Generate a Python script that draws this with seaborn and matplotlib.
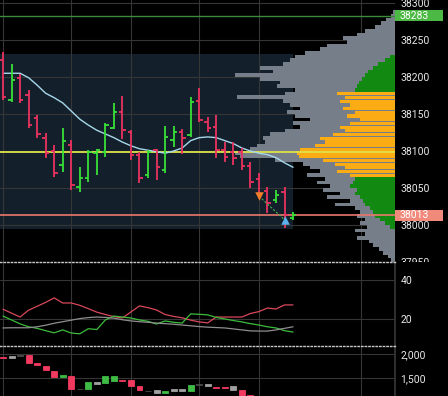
import numpy as np
import pandas as pd
import matplotlib
matplotlib.use("Agg")
import matplotlib.pyplot as plt
import matplotlib.transforms as mtransforms
from matplotlib.patches import Rectangle
from matplotlib.ticker import FuncFormatter
import seaborn as sns

# --- price bars (OHLC), one per bar index ---
bar_open = [38223, 38169, 38199, 38176, 38145, 38118, 38100, 38081, 38108, 38052,
            38064, 38097, 38099, 38131, 38153, 38126, 38095, 38068, 38102, 38074,
            38115, 38126, 38122, 38168, 38139, 38132, 38101, 38099, 38098, 38080,
            38062, 38046, 38034, 38044, 38010]
bar_high = [38234, 38218, 38204, 38182, 38149, 38124, 38108, 38131, 38115, 38078,
            38101, 38103, 38138, 38165, 38174, 38128, 38099, 38101, 38103, 38134,
            38134, 38130, 38173, 38185, 38146, 38149, 38112, 38112, 38104, 38085,
            38070, 38051, 38047, 38051, 38018]
bar_low = [38169, 38166, 38165, 38131, 38118, 38091, 38065, 38072, 38047, 38045,
           38058, 38068, 38092, 38130, 38116, 38088, 38057, 38064, 38061, 38070,
           38105, 38096, 38119, 38139, 38126, 38091, 38085, 38081, 38074, 38050,
           38038, 38016, 38030, 37996, 38007]
bar_close = [38173, 38196, 38169, 38135, 38123, 38097, 38070, 38114, 38054, 38063,
             38099, 38101, 38135, 38153, 38128, 38095, 38064, 38099, 38078, 38119,
             38126, 38118, 38166, 38142, 38131, 38101, 38092, 38090, 38080, 38058,
             38040, 38030, 38040, 38013, 38013]
ma_line = [38205, 38205, 38205, 38199, 38189, 38178, 38172, 38165, 38154, 38143,
           38135, 38128, 38123, 38118, 38112, 38107, 38103, 38101, 38099, 38097,
           38100, 38104, 38114, 38118, 38119, 38118, 38114, 38110, 38104, 38100,
           38097, 38095, 38091, 38084, 38078]

# --- levels ---
high_level = 38283
last_price = 38013
poc_price = 38098
session_top = 38231
session_bottom = 37994
va_low, va_high = 38065, 38175
signal_bars = [30, 33]
signal_prices = [38039, 38007]

# --- volume profile, 5 point rows (lower edge), top to bottom ---
profile_rows = np.arange(38285, 37945, -5)
profile_total = [2, 4, 9, 14, 20, 30, 38, 52, 48, 68,
                 75, 90, 100, 105, 112, 135, 122, 160, 135, 115,
                 118, 100, 110, 158, 112, 105, 95, 108, 100, 85,
                 102, 95, 110, 125, 132, 130, 138, 145, 160, 155,
                 120, 92, 85, 75, 88, 70, 78, 65, 72, 55,
                 68, 45, 60, 40, 35, 38, 30, 35, 28, 40,
                 30, 38, 26, 22, 16, 12, 7, 4]
profile_session = [0] * 12 + [5, 10, 17, 22, 27, 30, 33, 36, 38, 40,
                              58, 50, 55, 45, 52, 40, 48, 35, 45, 55,
                              50, 62, 75, 70, 80, 95, 98, 96, 72, 60,
                              50, 58, 45,
                              40, 42, 45, 38, 40, 35, 32, 30, 25, 22,
                              20, 15, 10, 5] + [0] * 9

# --- directional lines (middle panel) ---
dmi_red = [25.0, 23.0, 21.0, 24.5, 26.5, 28.5, 30.8, 28.2, 28.2, 27.0,
           25.3, 23.5, 22.3, 21.2, 20.5, 23.6, 26.7, 25.8, 24.6, 22.3,
           21.3, 20.6, 19.4, 18.5, 18.0, 21.0, 21.0, 21.0, 21.0, 22.8,
           23.8, 25.6, 25.1, 27.2, 27.2]
dmi_green = [21.5, 19.5, 17.5, 16.0, 15.2, 14.0, 12.9, 14.4, 12.8, 12.4,
             15.0, 14.6, 19.5, 21.5, 21.0, 20.5, 19.5, 18.8, 17.4, 19.0,
             18.3, 17.9, 22.6, 22.4, 22.1, 20.8, 20.0, 19.2, 18.5, 17.6,
             16.9, 16.0, 15.4, 14.0, 13.3]
adx_gray = [15.4, 15.5, 15.5, 15.5, 16.0, 16.8, 17.8, 18.6, 19.4, 20.2,
            20.7, 21.0, 20.8, 20.4, 19.6, 19.0, 18.6, 18.3, 17.9, 17.6,
            17.3, 16.9, 16.5, 16.1, 15.8, 15.6, 15.4, 14.9, 14.4, 13.9,
            13.8, 13.8, 14.4, 15.2, 16.0]

# --- cumulative delta boxes (bottom panel) ---
cvd_open = [1944, 1958, 1979, 1979, 1806, 1750, 1652, 1515, 1542, 1271,
            1277, 1417, 1390, 1444, 1458, 1458, 1333, 1235, 1250, 1194,
            1271, 1271, 1235, 1375, 1375, 1319, 1319, 1333, 1250, 1146]
cvd_close = [1910, 1917, 1969, 1806, 1765, 1667, 1527, 1556, 1265, 1265,
             1417, 1381, 1542, 1542, 1437, 1333, 1250, 1229, 1194, 1235,
             1235, 1235, 1348, 1360, 1333, 1298, 1298, 1250, 1125, 1040]
cvd_state = ["down", "flat", "doji", "down", "down", "down", "down", "up", "down", "doji",
             "up", "flat", "up", "up", "down", "down", "down", "doji", "flat", "up",
             "flat", "flat", "up", "doji", "flat", "down", "down", "flat", "down", "down"]

price_ticks = [37950, 38000, 38050, 38100, 38150, 38200, 38250, 38300]
dmi_ticks = [20, 40]
cvd_ticks = [1500, 2000]
time_ticks = [0, 8, 15, 23, 30, 42]

RED = "#ea3260"
GREEN = "#38e038"
GRID = "#363636"
LABEL = "#e8e8e8"

sns.set_theme(style="dark", rc={"figure.facecolor": "black", "axes.facecolor": "black",
                                "axes.edgecolor": "black", "savefig.facecolor": "black"})
plt.rcParams["font.family"] = ["Roboto", "DejaVu Sans"]

fig = plt.figure(figsize=(4.48, 3.96), dpi=100)
W = 395 / 448
main_pos = [0, 134 / 396, W, 262 / 396]

# profile layer underneath, price layer on top (shared price scale)
ax_p = fig.add_axes(main_pos)
ax = fig.add_axes(main_pos, sharey=ax_p)
ax_p.set_zorder(0)
ax.set_zorder(1)
ax.patch.set_visible(False)
ax_p.set_facecolor("black")

x_idx = np.arange(len(bar_open))
ax.set_xlim(-0.35, 45.95)
ax_p.set_xlim(395, 0)
ax.set_ylim(37950, 38304)

# background: session box + grid
ax_p.axhspan(session_bottom, session_top, xmin=0, xmax=293 / 395, color="#131f2b", lw=0, zorder=0.2)
for t in price_ticks:
    ax_p.axhline(t, color=GRID, lw=0.8, zorder=0.5)
vtrans = mtransforms.blended_transform_factory(ax.transData, ax_p.transAxes)
for t in time_ticks:
    ax_p.plot([t, t], [0, 1], transform=vtrans, color=GRID, lw=0.8, zorder=0.5)

# volume profile
rows = np.asarray(profile_rows)
ax_p.barh(rows, profile_total, height=5, align="edge", color="#767e89", lw=0, zorder=1)
in_va = [va_low <= r <= va_high for r in rows]
sess_cols = ["#fbab13" if v else "#128a12" for v in in_va]
sess_h = [4.4 if v else 5 for v in in_va]
ax_p.barh(rows, profile_session, height=sess_h, align="edge", color=sess_cols, lw=0, zorder=2)
ax_p.set_xticks([])
ax_p.tick_params(left=False, labelleft=False, bottom=False, labelbottom=False)
for s in ax_p.spines.values():
    s.set_visible(False)

# horizontal levels
ax.axhline(high_level, color="#3c8a3c", lw=1.0, zorder=1)
ax.axhline(poc_price, color="#dfe24a", lw=1.3, zorder=1)
ax.axhline(last_price, color="#e9786c", lw=1.2, zorder=1)

# OHLC bars
cols = [GREEN if c >= o else RED for o, c in zip(bar_open, bar_close)]
ax.vlines(x_idx, bar_low, bar_high, colors=cols, lw=1.3, zorder=3)
ax.hlines(bar_open, x_idx - 0.4, x_idx, colors=cols, lw=1.3, zorder=3)
ax.hlines(bar_close, x_idx, x_idx + 0.4, colors=cols, lw=1.3, zorder=3)

# moving average
sns.lineplot(x=x_idx, y=ma_line, ax=ax, color="#a6d8ea", lw=1.0, zorder=2)

# signals
ax.plot(signal_bars, signal_prices, color="#4caf50", lw=0.8, ls=(0, (2, 1.5)), zorder=4)
ax.scatter(signal_bars[0], signal_prices[0], marker="v", s=38, color="#f07e2a", lw=0, zorder=5)
ax.scatter(signal_bars[1], signal_prices[1], marker="^", s=38, color="#5ab0e8", lw=0, zorder=5)

ax.yaxis.tick_right()
ax.set_yticks(price_ticks)
ax.set_xticks([])
ax.tick_params(axis="y", length=0, pad=4, labelsize=7.5, labelcolor=LABEL)
ax.tick_params(axis="x", bottom=False, labelbottom=False)
for s in ax.spines.values():
    s.set_visible(False)

# price tags on the scale
ytrans = mtransforms.blended_transform_factory(ax.transAxes, ax.transData)
for level, fc in [(high_level, "#4cb944"), (last_price, "#f28a7c")]:
    ax.add_patch(Rectangle((1.0, level - 7), 48 / 395, 14.5, transform=ytrans, fc=fc, ec="none",
                           clip_on=False, zorder=6))
    ax.text(1.0 + 4 / 395, level, str(level), transform=ytrans, ha="left", va="center",
            fontsize=7.5, color="white", zorder=7, clip_on=False)

# cover the cut price label below the main panel
fig.patches.append(Rectangle((W, 0), 1 - W, 134 / 396, transform=fig.transFigure,
                             facecolor="black", edgecolor="none", zorder=1.5))


def style_lower(a):
    a.set_zorder(2)
    a.set_facecolor("black")
    a.set_xlim(-0.35, 45.95)
    a.set_xticks(time_ticks)
    a.tick_params(axis="x", bottom=False, labelbottom=False)
    a.yaxis.tick_right()
    a.tick_params(axis="y", length=0, pad=4, labelsize=7.5, labelcolor=LABEL)
    a.grid(True, color=GRID, lw=0.8)
    for s in a.spines.values():
        s.set_visible(False)
    a.spines["top"].set_visible(True)
    a.spines["top"].set_color("#c8c8c8")
    a.spines["top"].set_linestyle((0, (1, 1.6)))
    a.spines["top"].set_linewidth(1.0)
    a.spines["right"].set_visible(True)
    a.spines["right"].set_color(GRID)


# middle panel: directional lines
ax_m = fig.add_axes([0, 50 / 396, W, 84 / 396])
dmi = pd.DataFrame({"bar": np.tile(x_idx, 3),
                    "value": dmi_red + dmi_green + adx_gray,
                    "line": ["red"] * 35 + ["green"] * 35 + ["gray"] * 35})
sns.lineplot(data=dmi, x="bar", y="value", hue="line", ax=ax_m, legend=False, lw=0.9,
             palette={"red": "#d9485a", "green": "#3cbc3c", "gray": "#8e8e8e"})
ax_m.set_ylim(6.15, 49.2)
ax_m.set_yticks(dmi_ticks)
ax_m.set_xlabel("")
ax_m.set_ylabel("")
style_lower(ax_m)

# bottom panel: cumulative delta boxes
ax_b = fig.add_axes([0, 0, W, 50 / 396])
box_col = {"down": "#f2395f", "up": "#3dbb44", "flat": "#a0a0a0", "doji": "#4a4a4a"}
cx = np.arange(len(cvd_open))
heights = np.array(cvd_close) - np.array(cvd_open)
bc = [box_col[s] for s in cvd_state]
ax_b.bar(cx, heights, bottom=cvd_open, width=0.7, color=bc, edgecolor=bc, lw=0.6, zorder=3)
ax_b.set_ylim(1125, 2167)
ax_b.set_yticks(cvd_ticks)
ax_b.yaxis.set_major_formatter(FuncFormatter(lambda v, p: f"{v:,.0f}"))
style_lower(ax_b)

fig.savefig("out.png", dpi=100, facecolor="black")
